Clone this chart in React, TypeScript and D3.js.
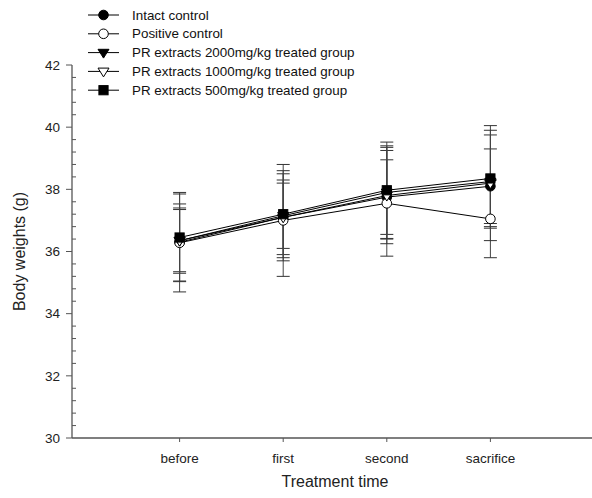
import { useRef, useEffect } from 'react';
import * as d3 from 'd3';

const categories = ['before', 'first', 'second', 'sacrifice'];

const seriesNames = [
  'Intact control',
  'Positive control',
  'PR extracts 2000mg/kg treated group',
  'PR extracts 1000mg/kg treated group',
  'PR extracts 500mg/kg treated group',
];

const intactMean = [36.3, 37.1, 37.75, 38.1];
const intactSd = [1.6, 1.2, 1.2, 1.2];
const positiveMean = [36.28, 37.0, 37.55, 37.05];
const positiveSd = [1.25, 1.8, 1.7, 1.25];
const pr2000Mean = [36.35, 37.15, 37.9, 38.25];
const pr2000Sd = [1.05, 1.05, 1.5, 1.5];
const pr1000Mean = [36.35, 37.1, 37.8, 38.2];
const pr1000Sd = [1.0, 1.4, 1.55, 1.85];
const pr500Mean = [36.45, 37.2, 37.97, 38.35];
const pr500Sd = [1.4, 1.4, 1.55, 1.55];

const yTicks = [30, 32, 34, 36, 38, 40, 42];

const series = [
  { name: seriesNames[0], mean: intactMean, sd: intactSd, shape: 'circle', filled: true },
  { name: seriesNames[1], mean: positiveMean, sd: positiveSd, shape: 'circle', filled: false },
  { name: seriesNames[2], mean: pr2000Mean, sd: pr2000Sd, shape: 'tri', filled: true },
  { name: seriesNames[3], mean: pr1000Mean, sd: pr1000Sd, shape: 'tri', filled: false },
  { name: seriesNames[4], mean: pr500Mean, sd: pr500Sd, shape: 'square', filled: true },
];

const FONT = 'Arial, "Liberation Sans", sans-serif';

const App = () => {
  const svgRef = useRef<SVGSVGElement | null>(null);

  useEffect(() => {
    if (!svgRef.current) return;
    const svg = d3.select(svgRef.current);
    svg.selectAll('*').remove();

    const left = 72, right = 592, top = 65, bottom = 438;

    const x = d3.scalePoint<string>().domain(categories).range([76, 594]).padding(1);
    const y = d3.scaleLinear().domain([30, 42]).range([bottom, top]);

    const axisColor = '#555';

    // axes lines
    svg.append('line').attr('x1', left).attr('x2', left).attr('y1', top).attr('y2', bottom)
      .attr('stroke', axisColor).attr('stroke-width', 1.3);
    svg.append('line').attr('x1', left).attr('x2', right).attr('y1', bottom).attr('y2', bottom)
      .attr('stroke', axisColor).attr('stroke-width', 1.3);

    // y ticks: majors outside, minors inside
    const minor = d3.range(30, 42.001, 0.4).filter(v => Math.abs(v / 2 - Math.round(v / 2)) > 0.01);
    svg.selectAll('.minor').data(minor).enter().append('line')
      .attr('x1', left).attr('x2', left + 4)
      .attr('y1', d => y(d)).attr('y2', d => y(d))
      .attr('stroke', axisColor);
    svg.selectAll('.major').data(yTicks).enter().append('line')
      .attr('x1', left - 6).attr('x2', left)
      .attr('y1', d => y(d)).attr('y2', d => y(d))
      .attr('stroke', axisColor);
    svg.selectAll('.ylab').data(yTicks).enter().append('text')
      .attr('x', left - 12).attr('y', d => y(d)).attr('dy', '0.35em')
      .attr('text-anchor', 'end').attr('font-family', FONT).attr('font-size', 13.5)
      .attr('fill', '#222').text(d => d);

    // x ticks
    svg.selectAll('.xt').data(categories).enter().append('line')
      .attr('x1', d => x(d)!).attr('x2', d => x(d)!)
      .attr('y1', bottom).attr('y2', bottom + 4)
      .attr('stroke', axisColor);
    svg.selectAll('.xlab').data(categories).enter().append('text')
      .attr('x', d => x(d)!).attr('y', bottom + 25)
      .attr('text-anchor', 'middle').attr('font-family', FONT).attr('font-size', 13.5)
      .attr('fill', '#222').text(d => d);

    svg.append('text').attr('x', 335).attr('y', 487).attr('text-anchor', 'middle')
      .attr('font-family', FONT).attr('font-size', 16).attr('fill', '#222').text('Treatment time');
    svg.append('text').attr('transform', `translate(25,${(top + bottom) / 2}) rotate(-90)`)
      .attr('text-anchor', 'middle').attr('font-family', FONT).attr('font-size', 16)
      .attr('fill', '#222').text('Body weights (g)');

    const drawMarker = (g: any, shape: string, filled: boolean, cx: number, cy: number) => {
      const fill = filled ? '#000' : '#fff';
      if (shape === 'circle') {
        g.append('circle').attr('cx', cx).attr('cy', cy).attr('r', 4.8)
          .attr('fill', fill).attr('stroke', '#000').attr('stroke-width', 1);
      } else if (shape === 'square') {
        g.append('rect').attr('x', cx - 4.6).attr('y', cy - 4.6).attr('width', 9.2).attr('height', 9.2)
          .attr('fill', fill).attr('stroke', '#000').attr('stroke-width', 1);
      } else {
        const s = 5.5;
        g.append('path')
          .attr('d', `M${cx - s},${cy - s * 0.6}L${cx + s},${cy - s * 0.6}L${cx},${cy + s * 1.0}Z`)
          .attr('fill', fill).attr('stroke', '#000').attr('stroke-width', 1);
      }
    };

    // error bars
    const eb = svg.append('g');
    series.forEach(s => {
      s.mean.forEach((m, i) => {
        const cx = x(categories[i])!;
        const hi = y(m + s.sd[i]);
        const lo = y(m - s.sd[i]);
        eb.append('line').attr('x1', cx).attr('x2', cx).attr('y1', hi).attr('y2', lo)
          .attr('stroke', '#444').attr('stroke-width', 1);
        [hi, lo].forEach(yy => {
          eb.append('line').attr('x1', cx - 6.5).attr('x2', cx + 6.5).attr('y1', yy).attr('y2', yy)
            .attr('stroke', '#333').attr('stroke-width', 1);
        });
      });
    });

    // lines
    const line = d3.line<number>().x((_, i) => x(categories[i])!).y(d => y(d));
    series.forEach(s => {
      svg.append('path').datum(s.mean).attr('d', line)
        .attr('fill', 'none').attr('stroke', '#000').attr('stroke-width', 1);
    });

    // markers
    const mk = svg.append('g');
    series.forEach(s => {
      s.mean.forEach((m, i) => drawMarker(mk, s.shape, s.filled, x(categories[i])!, y(m)));
    });

    // legend
    const lg = svg.append('g');
    series.forEach((s, i) => {
      const ly = 15 + i * 18.8;
      lg.append('line').attr('x1', 88).attr('x2', 119).attr('y1', ly).attr('y2', ly)
        .attr('stroke', '#000').attr('stroke-width', 1);
      drawMarker(lg, s.shape, s.filled, 103.5, ly);
      lg.append('text').attr('x', 132).attr('y', ly).attr('dy', '0.35em')
        .attr('font-family', FONT).attr('font-size', 13.4).attr('fill', '#111').text(s.name);
    });
  }, []);

  return (
    <div style={{ position: 'absolute', left: 0, top: 0 }}>
      <svg ref={svgRef} width={592} height={498} style={{ display: 'block', background: '#fff' }} />
    </div>
  );
};

export default App;
